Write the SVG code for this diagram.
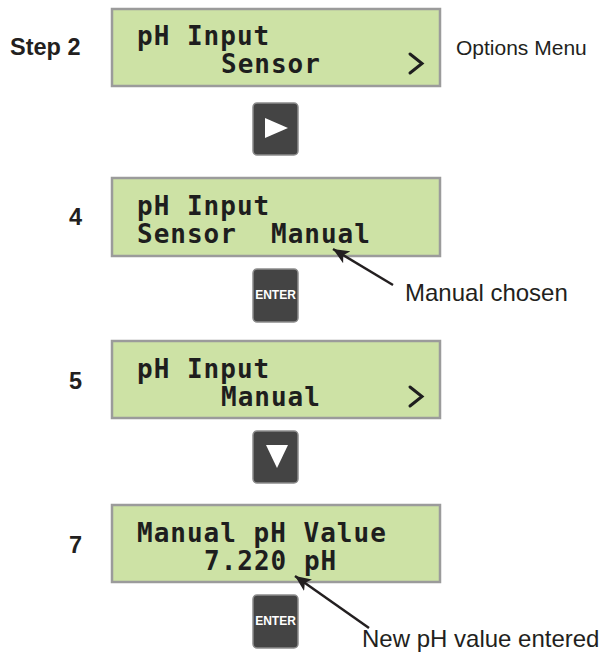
<svg xmlns="http://www.w3.org/2000/svg" width="600" height="654" viewBox="0 0 600 654">
<style>
.lcd{fill:#cde2a5;stroke:#9b9b9b;stroke-width:2.5}
.lt{font-family:"DejaVu Sans Mono",monospace;font-weight:bold;font-size:26px;letter-spacing:1px;fill:#1e1e1e}
.btn{fill:#444444;stroke:#8c8c8c;stroke-width:1.5}
.bt{font-family:"Liberation Sans",Arial,sans-serif;font-weight:bold;font-size:12px;fill:#ffffff}
.step{font-family:"Liberation Sans",Arial,sans-serif;font-weight:bold;font-size:23.5px;fill:#231f20}
.note{font-family:"Liberation Sans",Arial,sans-serif;font-size:24px;fill:#231f20}
.chev{fill:none;stroke:#1e1e1e;stroke-width:3;stroke-linecap:round;stroke-linejoin:miter}
.conn{stroke:#231f20;stroke-width:2.5;fill:none}
</style>
<defs>
<marker id="ah" markerUnits="userSpaceOnUse" markerWidth="18" markerHeight="14" refX="16" refY="7" orient="auto">
<path d="M0,0 L16,7 L0,14 L4,7 Z" fill="#231f20"/>
</marker>
</defs>
<g id="labels">
<text class="step" x="10" y="55">Step 2</text>
<text class="step" x="82" y="225" text-anchor="end">4</text>
<text class="step" x="82" y="389" text-anchor="end">5</text>
<text class="step" x="82" y="553" text-anchor="end">7</text>
<text class="note" x="456" y="55" style="font-size:21px">Options Menu</text>
</g>
<g id="screen1">
<rect class="lcd" x="112" y="9" width="328" height="77"/>
<text class="lt" x="137" y="45">pH Input</text>
<text class="lt" x="221" y="73">Sensor</text>
<path class="chev" d="M410,54 L422,63.5 L410,73"/>
</g>
<g id="btn-right">
<rect class="btn" x="253" y="103" width="45" height="52" rx="4"/>
<path d="M265,118 L288,128 L265,138 Z" fill="#ffffff"/>
</g>
<g id="screen2">
<rect class="lcd" x="112" y="178" width="328" height="78"/>
<text class="lt" x="137" y="215">pH Input</text>
<text class="lt" x="137" y="243">Sensor<tspan x="271">Manual</tspan></text>
</g>
<g id="btn-enter1">
<rect class="btn" x="253" y="269" width="45" height="53" rx="4"/>
<text class="bt" x="275.5" y="299" text-anchor="middle">ENTER</text>
</g>
<g id="screen3">
<rect class="lcd" x="112" y="341" width="328" height="77"/>
<text class="lt" x="137" y="378">pH Input</text>
<text class="lt" x="221" y="406">Manual</text>
<path class="chev" d="M410,387 L422,396.5 L410,406"/>
</g>
<g id="btn-down">
<rect class="btn" x="253" y="431" width="45" height="52" rx="4"/>
<path d="M266,445 L288,445 L277,468 Z" fill="#ffffff"/>
</g>
<g id="screen4">
<rect class="lcd" x="112" y="505" width="328" height="77"/>
<text class="lt" x="137" y="542">Manual pH Value</text>
<text class="lt" x="204" y="570">7.220 pH</text>
</g>
<g id="btn-enter2">
<rect class="btn" x="253" y="595" width="45" height="53" rx="4"/>
<text class="bt" x="275.5" y="625" text-anchor="middle">ENTER</text>
</g>
<g id="notes">
<text class="note" x="405" y="301">Manual chosen</text>
<text class="note" x="362" y="647">New pH value entered</text>
</g>
<g id="connectors">
<line class="conn" x1="393" y1="285" x2="333" y2="249" marker-end="url(#ah)"/>
<line class="conn" x1="369" y1="628" x2="295" y2="576" marker-end="url(#ah)"/>
</g>
</svg>
